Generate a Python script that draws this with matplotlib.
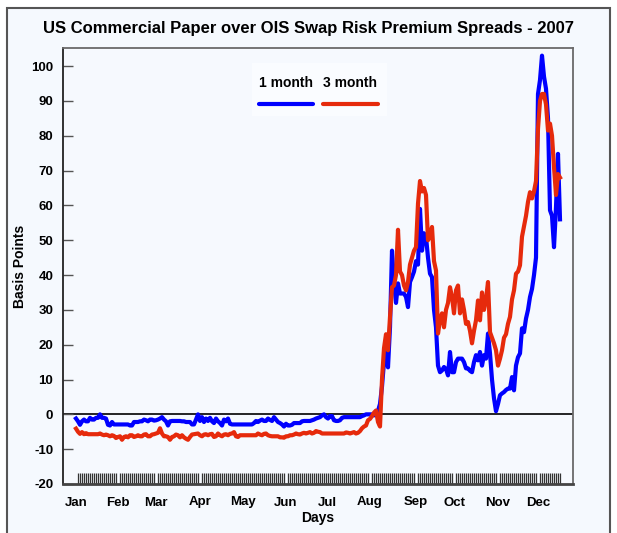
import numpy as np
import matplotlib
matplotlib.use("Agg")
import matplotlib.pyplot as plt
from matplotlib.patches import Rectangle

plt.rcParams['font.family'] = ['Liberation Sans', 'DejaVu Sans']
plt.rcParams['font.weight'] = 'bold'
plt.rcParams['axes.unicode_minus'] = False

# month labels and the trading-day index where each one sits
months = ['Jan', 'Feb', 'Mar', 'Apr', 'May', 'Jun', 'Jul', 'Aug', 'Sep', 'Oct', 'Nov', 'Dec']
month_pos = [0, 21, 40, 62, 83.5, 105, 125.5, 147, 170, 189, 211, 231]

# 1 month CP - OIS spread (basis points), one value per trading day
one_month = [
    -1.2, -2, -3, -2, -1.5, -2, -2, -1, -1.5, -1.5,
    -1, -1, 0, -1, -1, -1.2, -3, -3.2, -2.2, -2.9,
    -2.9, -2.9, -2.9, -2.9, -2.9, -2.9, -2.9, -3.2, -3.2, -2.2,
    -2.2, -2.2, -2, -2, -1.5, -1.7, -2, -1.5, -1.5, -1.8,
    -1.7, -1.5, -1.2, -0.8, -1.5, -2, -3.2, -2, -1.9, -1.9,
    -1.9, -1.9, -1.9, -2, -2, -2.2, -2.2, -2.2, -2.9, -2.9,
    -1.5, 0, -1.9, -0.8, -2.2, -1.2, -1.9, -1, -2, -2.5,
    -1.2, -2, -2.5, -3.2, -1.5, -2, -1.2, -2.7, -2.9, -2.9,
    -2.9, -2.9, -2.9, -2.9, -2.9, -2.9, -2.9, -2.9, -2.9, -2.5,
    -1.9, -2.2, -1.8, -1.5, -1.9, -1.9, -1.2, -1.6, -1.9, -0.8,
    -1.5, -2.2, -2.5, -2.9, -3.5, -2.7, -3.2, -3.2, -3, -2.5,
    -2.5, -2.5, -2.5, -2, -1.9, -1.9, -1.9, -1.9, -1.7, -1.5,
    -1.2, -1, -0.8, -0.3, 0, -0.8, -1.2, -0.5, -0.5, -1.7,
    -1.9, -1.9, -1.7, -1, -0.8, -0.8, -0.8, -0.8, -0.8, -0.8,
    -0.8, -0.8, -0.8, -0.5, -0.3, 0, 0, 0, 0, -0.3,
    0.5, 1, 3, 8, 15, 20, 13.5, 25, 47, 38,
    32, 37.6, 34.7, 34.7, 34.7, 33.7, 30.8, 38, 39.4, 41,
    44, 43, 59, 47, 52, 51, 45, 40.4, 39.4, 30,
    25, 14, 12.1, 12.6, 13.6, 13, 11.2, 17.9, 12.1, 12.1,
    15, 16, 16, 16, 15, 13.2, 13.2, 12.5, 12.1, 15,
    17, 15.5, 17.9, 14, 17, 16, 23.2, 17.5, 10, 4.6,
    0.9, 3, 5.5, 6, 6.4, 7, 7.4, 7.4, 10.7, 6.9,
    14, 16.4, 17.5, 24.7, 23.6, 27.5, 30, 33.7, 36, 40,
    45, 92, 96, 103, 97, 93.5, 85, 58.6, 57, 48,
    59.5, 74.8, 56,
]

# 3 month CP - OIS spread (basis points)
three_month = [
    -4.1, -5, -5.6, -5.1, -5.7, -5.4, -5.7, -5.7, -5.7, -5.7,
    -5.7, -5.7, -5.5, -5.8, -6, -5.8, -6, -6.3, -6, -6.2,
    -6.8, -6.5, -6.3, -7.3, -6.5, -6.3, -6.6, -6, -6, -6.5,
    -6.3, -6, -6.3, -6.3, -5.8, -5.7, -6.3, -6.3, -5.8, -5.7,
    -5.5, -5.3, -4, -5.5, -6.3, -6.3, -6.5, -7.3, -6.5, -6.3,
    -5.8, -6, -6.6, -6, -6.6, -7, -7.3, -6.5, -5.8, -5.7,
    -5.6, -5.5, -6, -6.3, -5.8, -5.7, -6, -5.7, -5.6, -6.5,
    -6.3, -5.5, -6, -6.3, -5.8, -5.7, -6, -5.6, -5.5, -5.1,
    -6.3, -6.5, -6, -6, -6, -6, -6, -6, -6, -6,
    -6, -5.5, -5.8, -6, -5.6, -5.5, -6, -6.2, -6.3, -6.3,
    -6.3, -6.3, -6.6, -6.6, -6.7, -6.3, -6.3, -6, -6, -5.8,
    -5.5, -5.7, -5.8, -5.5, -5.3, -5.5, -5.3, -5.1, -5.5, -5.3,
    -4.8, -5, -5.1, -5.5, -5.5, -5.5, -5.5, -5.5, -5.5, -5.5,
    -5.5, -5.5, -5.5, -5.5, -5.5, -5.2, -5.3, -5.5, -5.3, -5.1,
    -5.5, -5.3, -4.8, -4, -3.5, -3.2, -1.7, -1.3, -0.5, 0.5,
    1.1, -2.2, -3.5, 10, 19, 23, 18.4, 28, 36.5, 37,
    40, 53, 41, 40, 37, 35.6, 38, 43, 45, 47,
    48, 60.5, 67, 64, 65, 63, 50, 51, 53.8, 44,
    41.3, 23.2, 27, 29, 25, 30, 32, 36.5, 33.7, 29,
    35.6, 37, 29, 33, 30, 26, 26.5, 24, 20.4, 24,
    27, 32.7, 27, 35, 30, 33, 38, 23.6, 22, 20.4,
    18.4, 14, 16, 18.4, 22, 23, 26, 28, 33, 35.6,
    40.4, 41, 42.8, 51, 54, 57, 61, 63.8, 62, 64,
    67, 82, 90, 92, 92, 89, 81.5, 83.5, 80, 71,
    63, 69, 68,
]

days = np.arange(len(one_month))

fig = plt.figure(figsize=(6.17, 5.33), dpi=100, facecolor='white')
# panel background with its dark frame, kept behind the axes
frame = Rectangle((7 / 617, -0.02), 603 / 617, 1 - 8 / 533 + 0.02,
                  transform=fig.transFigure, facecolor='#f5f9fe',
                  edgecolor='#555555', linewidth=1.5, zorder=-10)
fig.add_artist(frame)

ax = fig.add_axes([63 / 617, 1 - 484 / 533, 510 / 617, 436 / 533])
ax.set_zorder(5)
ax.set_facecolor('#f6f9fe')

ax.axhline(0, color='black', linewidth=1.2, zorder=1)
ax.plot(days, one_month, color='#0000ff', linewidth=3, solid_joinstyle='round', zorder=2)
ax.plot(days, three_month, color='#e62a0c', linewidth=3, solid_joinstyle='round', zorder=3)

ax.set_xlim(-6.5, 248.5)
ax.set_ylim(-20, 105.2)
ax.set_yticks(np.arange(-20, 101, 10))
ax.set_xticks(month_pos)
ax.set_xticklabels(months)
ax.set_xticks(days, minor=True)

ax.tick_params(axis='y', direction='in', length=7, width=1, color='#555555',
               labelsize=9.5, pad=7)
ax.tick_params(axis='x', which='major', length=0, labelsize=9.5, pad=9)
ax.tick_params(axis='x', which='minor', direction='in', length=8, width=0.9,
               color='#333333')

for side in ['top', 'right']:
    ax.spines[side].set_color('#6a6a6a')
    ax.spines[side].set_linewidth(1.3)
ax.spines['left'].set_color('#222222')
ax.spines['left'].set_linewidth(1.3)
ax.spines['bottom'].set_color('#444444')
ax.spines['bottom'].set_linewidth(2)

ax.set_xlabel('Days', fontsize=10, fontweight='bold', labelpad=2)
ax.set_ylabel('Basis Points', fontsize=10, fontweight='bold', labelpad=3)

fig.text(0.5, 1 - 28 / 533, 'US Commercial Paper over OIS Swap Risk Premium Spreads - 2007',
         ha='center', va='center', fontsize=12, fontweight='bold')

# legend: label above a short line sample
ax.add_patch(Rectangle((0.37, 0.845), 0.265, 0.12, transform=ax.transAxes,
                       facecolor='#fafcff', edgecolor='none', zorder=4))
ax.text(0.437, 0.920, '1 month', transform=ax.transAxes, ha='center', va='center',
        fontsize=10, fontweight='bold', zorder=5)
ax.text(0.563, 0.920, '3 month', transform=ax.transAxes, ha='center', va='center',
        fontsize=10, fontweight='bold', zorder=5)
ax.plot([0.384, 0.490], [0.872, 0.872], transform=ax.transAxes, color='#0000ff',
        linewidth=3, solid_capstyle='round', zorder=5)
ax.plot([0.510, 0.618], [0.872, 0.872], transform=ax.transAxes, color='#e62a0c',
        linewidth=3, solid_capstyle='round', zorder=5)

fig.savefig('out.png', dpi=100, facecolor=fig.get_facecolor())
